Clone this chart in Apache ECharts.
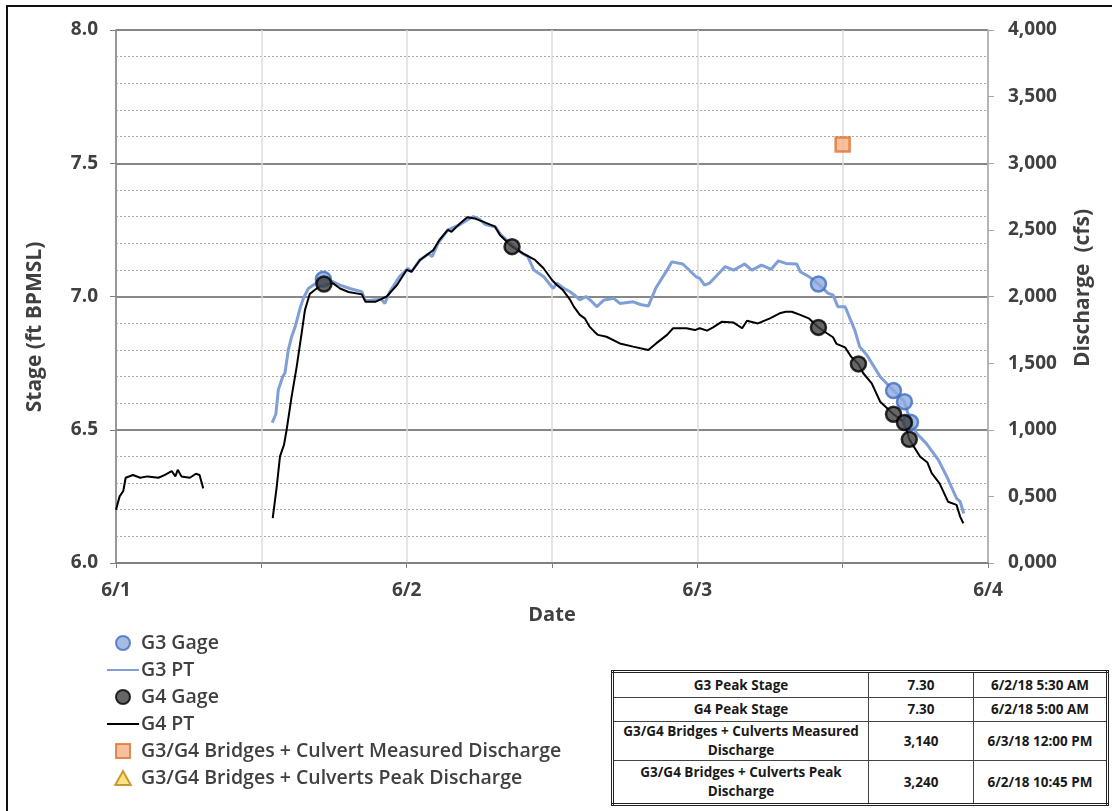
<!DOCTYPE html>
<html>
<head>
<meta charset="utf-8">
<script src="https://cdn.jsdelivr.net/npm/echarts@6/dist/echarts.min.js"></script>
<style>
  html, body { margin: 0; padding: 0; background: #fff; }
  #wrap { position: relative; width: 1112px; height: 811px; overflow: hidden; }
  #frame { position: absolute; left: 6px; top: 5px; width: 1200px; height: 900px;
           border-left: 2px solid #111; border-top: 2px solid #111; box-sizing: border-box; }
  #chart { position: absolute; left: 0; top: 0; width: 1112px; height: 811px; }
  #tbl { position: absolute; left: 611px; top: 670px; width: 498px; border: 3px double #222;
         border-collapse: collapse; font-family: "Open Sans", sans-serif; font-weight: 700;
         font-size: 13.5px; color: #1a1a1a; background: #fff; }
  #tbl td { border: 1px solid #444; text-align: center; padding: 0 2px; line-height: 19px; }
</style>
</head>
<body>
<div id="wrap">
  <div id="frame"></div>
  <div id="chart"></div>
  <table id="tbl">
    <tr style="height:26px"><td style="width:250px">G3 Peak Stage</td><td style="width:100px">7.30</td><td>6/2/18 5:30 AM</td></tr>
    <tr style="height:24px"><td>G4 Peak Stage</td><td>7.30</td><td>6/2/18 5:00 AM</td></tr>
    <tr style="height:39px"><td>G3/G4 Bridges + Culverts Measured Discharge</td><td>3,140</td><td>6/3/18 12:00 PM</td></tr>
    <tr style="height:44px"><td>G3/G4 Bridges + Culverts Peak Discharge</td><td>3,240</td><td>6/2/18 10:45 PM</td></tr>
  </table>
</div>
<script>
// x values are hours after 6/1/18 00:00
const dayLabels = { 0: '6/1', 24: '6/2', 48: '6/3', 72: '6/4' };

const g4PT = [
  [0,6.20],[0.3,6.25],[0.6,6.27],[0.8,6.32],[1.4,6.33],[2.0,6.32],[2.6,6.325],[3.5,6.32],[4.0,6.33],
  [4.6,6.345],[4.9,6.325],[5.1,6.35],[5.4,6.325],[6.1,6.32],[6.6,6.335],[6.9,6.33],[7.2,6.28],
  [10,null],
  [12.94,6.168],[13.27,6.286],[13.54,6.40],[13.87,6.443],[14.09,6.50],[14.5,6.624],[14.92,6.737],
  [15.33,6.863],[15.6,6.949],[16.0,7.01],[16.57,7.03],[17.17,7.047],[17.9,7.05],[18.5,7.03],
  [19.2,7.017],[20.3,7.008],[20.6,6.98],[21.4,6.98],[21.9,6.99],[22.35,7.0],[23.2,7.043],[24.0,7.10],
  [24.4,7.093],[25.1,7.137],[26.2,7.174],[26.7,7.212],[27.4,7.25],[27.7,7.243],[28.4,7.274],
  [29.0,7.297],[29.6,7.293],[30.3,7.281],[31.3,7.262],[31.7,7.231],[32.7,7.187],[33.6,7.162],
  [34.6,7.137],[35.3,7.106],[36.0,7.062],[36.4,7.043],[36.9,7.024],[37.5,6.987],[37.8,6.962],
  [38.3,6.931],[38.7,6.918],[39.1,6.887],[39.5,6.868],[39.8,6.856],[40.5,6.849],[41.6,6.824],
  [42.7,6.812],[43.95,6.799],[44.6,6.824],[45.5,6.856],[46.0,6.881],[47.1,6.881],[47.8,6.874],
  [48.2,6.881],[48.8,6.872],[49.3,6.884],[50.0,6.905],[51.0,6.902],[51.7,6.881],[52.1,6.909],
  [53.0,6.899],[54.0,6.918],[54.8,6.937],[55.3,6.943],[55.8,6.943],[56.5,6.931],[57.2,6.918],
  [58.0,6.884],[58.7,6.862],[59.2,6.847],[59.5,6.822],[60.2,6.809],[60.7,6.774],[61.3,6.747],
  [61.7,6.712],[62.4,6.674],[63.1,6.605],[64.2,6.558],[65.1,6.527],[65.5,6.464],[66.4,6.399],
  [67.0,6.377],[67.35,6.337],[68.0,6.299],[68.7,6.23],[69.4,6.218],[69.7,6.174],[69.96,6.149]
];

const g3PT = [
  [12.9,6.527],[13.2,6.559],[13.4,6.649],[13.76,6.699],[13.95,6.713],[14.23,6.80],[14.5,6.849],
  [14.8,6.887],[15.2,6.956],[15.47,6.993],[15.88,7.03],[16.3,7.043],[17.12,7.068],[17.9,7.056],
  [18.5,7.043],[19.3,7.03],[20.3,7.018],[20.6,6.984],[21.9,6.99],[22.2,6.974],[22.6,7.018],
  [23.4,7.074],[24.1,7.106],[24.4,7.093],[25.1,7.137],[25.8,7.16],[26.1,7.15],[26.6,7.20],
  [27.4,7.25],[28.4,7.27],[29.5,7.30],[30.0,7.29],[30.5,7.27],[31.3,7.262],[31.8,7.23],
  [32.8,7.19],[33.6,7.16],[34.0,7.15],[34.5,7.099],[35.3,7.075],[36.1,7.03],[36.4,7.05],
  [37.0,7.03],[37.5,7.018],[38.0,7.0],[38.3,6.987],[38.8,7.0],[39.2,6.985],[39.7,6.962],
  [40.3,6.987],[41.1,6.993],[41.6,6.974],[42.7,6.98],[43.3,6.97],[43.95,6.964],[44.6,7.034],
  [45.5,7.099],[45.9,7.13],[46.8,7.122],[47.9,7.074],[48.2,7.068],[48.6,7.043],[49.0,7.05],
  [49.9,7.093],[50.3,7.112],[51.0,7.099],[51.9,7.122],[52.5,7.099],[53.3,7.118],[54.1,7.102],
  [54.7,7.134],[55.3,7.124],[56.2,7.122],[56.5,7.093],[57.3,7.072],[58.0,7.047],[58.8,7.012],
  [59.2,7.006],[59.6,6.962],[60.2,6.962],[61.0,6.874],[61.4,6.812],[62.0,6.78],[63.1,6.699],
  [64.2,6.647],[65.1,6.605],[65.6,6.528],[66.1,6.487],[66.9,6.449],[67.9,6.387],[68.6,6.324],
  [69.4,6.243],[69.7,6.23],[70.0,6.186]
];

const g3Gage = [[17.12,7.065],[58.0,7.047],[64.2,6.647],[65.1,6.605],[65.6,6.528]];
const g4Gage = [[17.17,7.047],[32.7,7.187],[58.0,6.884],[61.3,6.747],[64.2,6.558],[65.1,6.527],[65.5,6.464]];
const measuredDischarge = [[60.0,3140]];
const peakDischarge = [];

const FONT = '"Open Sans", sans-serif';
const TXT = '#404040';

const chart = echarts.init(document.getElementById('chart'), null, { renderer: 'canvas' });
chart.setOption({
  animation: false,
  grid: { left: 116, right: 124, top: 30, bottom: 248 },
  xAxis: {
    type: 'value', min: 0, max: 72, interval: 12,
    axisLine: { show: true, onZero: false, lineStyle: { color: '#7f7f7f', width: 1.5 } },
    axisTick: { show: true, length: 5, lineStyle: { color: '#7f7f7f' } },
    axisLabel: { formatter: v => dayLabels[v] || '', fontFamily: FONT, fontWeight: 700, fontSize: 19, color: TXT, margin: 18 },
    splitLine: { show: true, lineStyle: { color: '#dcdcdc', width: 1.5 } },
    name: 'Date', nameLocation: 'middle', nameGap: 40,
    nameTextStyle: { fontFamily: FONT, fontWeight: 700, fontSize: 20, color: TXT }
  },
  yAxis: [
    {
      type: 'value', min: 6, max: 8, interval: 0.5,
      axisLine: { show: true, lineStyle: { color: '#7f7f7f', width: 1.5 } },
      axisTick: { show: true, length: 6, lineStyle: { color: '#7f7f7f' } },
      axisLabel: { formatter: v => v.toFixed(1), fontFamily: FONT, fontWeight: 700, fontSize: 19, color: TXT, margin: 18 },
      splitLine: { show: true, lineStyle: { color: '#5f5f5f', width: 1.5 } },
      minorTick: { show: false, splitNumber: 5 },
      minorSplitLine: { show: true, lineStyle: { color: '#a6a6a6', type: [2, 2], width: 1 } }
    },
    {
      type: 'value', min: 0, max: 4000, interval: 500, position: 'right',
      axisLine: { show: true, lineStyle: { color: '#a6a6a6', width: 1.5 } },
      axisTick: { show: true, length: 6, lineStyle: { color: '#a6a6a6' } },
      axisLabel: {
        formatter: v => { const th = Math.floor(v / 1000); const r = String(v % 1000).padStart(3, '0'); return th + ',' + r; },
        fontFamily: FONT, fontWeight: 700, fontSize: 19, color: TXT, margin: 20
      },
      splitLine: { show: false }
    }
  ],
  legend: {
    orient: 'vertical', left: 106, top: 633, padding: 0, itemWidth: 32, itemHeight: 14, itemGap: 7,
    symbolKeepAspect: true,
    textStyle: { fontFamily: FONT, fontWeight: 600, fontSize: 19.5, color: TXT, padding: [0, 0, 0, -3] },
    data: [
      { name: 'G3 Gage', icon: 'circle' },
      { name: 'G3 PT', itemStyle: { opacity: 0 } },
      { name: 'G4 Gage', icon: 'circle' },
      { name: 'G4 PT', itemStyle: { opacity: 0 } },
      { name: 'G3/G4 Bridges + Culvert Measured Discharge', icon: 'path://M0,0L10,0L10,10L0,10Z' },
      { name: 'G3/G4 Bridges + Culverts Peak Discharge', icon: 'path://M5,0L10,9L0,9Z' }
    ]
  },
  graphic: [
    { type: 'text', x: 35, y: 327, rotation: Math.PI / 2,
      style: { text: 'Stage (ft BPMSL)', fontFamily: FONT, fontWeight: 700, fontSize: 21, fill: TXT, align: 'center', verticalAlign: 'middle' } },
    { type: 'text', x: 1083, y: 288, rotation: Math.PI / 2,
      style: { text: 'Discharge  (cfs)', fontFamily: FONT, fontWeight: 700, fontSize: 21, fill: TXT, align: 'center', verticalAlign: 'middle' } }
  ],
  series: [
    { name: 'G3 PT', type: 'line', data: g3PT, symbol: 'none', z: 2,
      lineStyle: { color: '#7f9fd6', width: 3 }, itemStyle: { color: '#7f9fd6' } },
    { name: 'G4 PT', type: 'line', data: g4PT, symbol: 'none', z: 3, connectNulls: false,
      lineStyle: { color: '#000', width: 2 }, itemStyle: { color: '#000' } },
    { name: 'G3 Gage', type: 'scatter', data: g3Gage, symbol: 'circle', symbolSize: 15, z: 4,
      itemStyle: { color: '#8faadc', borderColor: '#3e6ec2', borderWidth: 2.5 } },
    { name: 'G4 Gage', type: 'scatter', data: g4Gage, symbol: 'circle', symbolSize: 15, z: 5,
      itemStyle: { color: '#404040', borderColor: '#000', borderWidth: 2.5 } },
    { name: 'G3/G4 Bridges + Culvert Measured Discharge', type: 'scatter', yAxisIndex: 1, data: measuredDischarge,
      symbol: 'rect', symbolSize: 14, z: 6,
      itemStyle: { color: '#f4b183', borderColor: '#e0722f', borderWidth: 2.5 } },
    { name: 'G3/G4 Bridges + Culverts Peak Discharge', type: 'scatter', yAxisIndex: 1, data: peakDischarge,
      symbol: 'triangle', symbolSize: 14, z: 6,
      itemStyle: { color: '#ffd966', borderColor: '#b8860b', borderWidth: 2.5 } }
  ]
});
</script>
</body>
</html>
